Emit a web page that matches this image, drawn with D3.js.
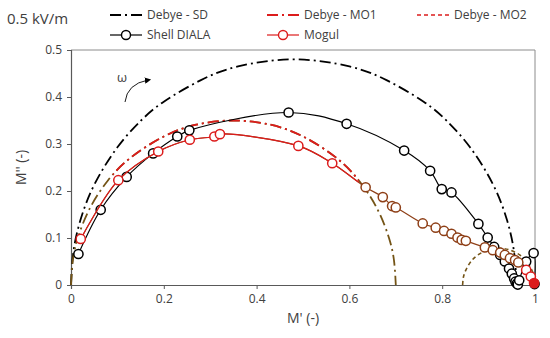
<!DOCTYPE html>
<meta charset="utf-8">
<script src="https://d3js.org/d3.v7.min.js"></script>
<style>
  body { margin: 0; background: #fff; }
  text { font-family: "Open Sans", "Noto Sans", sans-serif; fill: #404040; }
</style>
<body>
<script>
// Shell DIALA measured modulus (M', M'')
var shellRe = [0.016, 0.064, 0.120, 0.177, 0.229, 0.255, 0.469, 0.594, 0.718, 0.774, 0.799, 0.820, 0.878, 0.898, 0.912, 0.925, 0.935, 0.944, 0.950, 0.955, 0.958, 0.961, 0.963, 0.966, 0.981, 0.997, 0.999];
var shellIm = [0.066, 0.160, 0.230, 0.280, 0.316, 0.329, 0.367, 0.343, 0.286, 0.243, 0.204, 0.197, 0.130, 0.101, 0.081, 0.064, 0.050, 0.035, 0.024, 0.014, 0.007, 0.003, 0.001, 0.010, 0.050, 0.068, 0.002];

// Mogul measured modulus
var mogulRe = [0.021, 0.102, 0.188, 0.256, 0.309, 0.321, 0.490, 0.563, 0.635, 0.672, 0.692, 0.700, 0.758, 0.786, 0.804, 0.820, 0.833, 0.842, 0.851, 0.892, 0.909, 0.925, 0.935, 0.946, 0.957, 0.964, 0.981, 0.991, 0.998];
var mogulIm = [0.098, 0.223, 0.284, 0.309, 0.316, 0.321, 0.296, 0.259, 0.208, 0.187, 0.168, 0.165, 0.131, 0.122, 0.115, 0.109, 0.101, 0.096, 0.094, 0.080, 0.074, 0.069, 0.064, 0.057, 0.053, 0.048, 0.032, 0.018, 0.004];

// Debye fits, points
var sdRe = [0, 0.005, 0.02, 0.05, 0.1, 0.15, 0.2, 0.28, 0.36, 0.48, 0.6, 0.68, 0.76, 0.81, 0.86, 0.91, 0.94, 0.955, 0.96];
var sdIm = [0, 0.069, 0.137, 0.213, 0.293, 0.349, 0.390, 0.436, 0.465, 0.480, 0.465, 0.436, 0.390, 0.349, 0.293, 0.213, 0.137, 0.069, 0];

var mo1Re = [0, 0.004, 0.015, 0.04, 0.08, 0.13, 0.2, 0.27, 0.35, 0.43, 0.5, 0.57, 0.62, 0.66, 0.685, 0.696, 0.7];
var mo1Im = [0, 0.053, 0.101, 0.162, 0.223, 0.272, 0.316, 0.341, 0.350, 0.341, 0.316, 0.272, 0.223, 0.162, 0.101, 0.053, 0];

var mo2Re = [0.844, 0.846, 0.852, 0.862, 0.877, 0.9, 0.922, 0.944, 0.967, 0.982, 0.992, 0.998, 1.0];
var mo2Im = [0, 0.018, 0.034, 0.050, 0.064, 0.075, 0.078, 0.075, 0.064, 0.050, 0.034, 0.018, 0];

var xTicks = [0, 0.2, 0.4, 0.6, 0.8, 1];
var yTicks = [0, 0.1, 0.2, 0.3, 0.4, 0.5];

var width = 550, height = 338;
var red = "#dc1c1c", brown = "#8e3f17", olive = "#745416";

var x = d3.scaleLinear().domain([0, 1]).range([71, 535]);
var y = d3.scaleLinear().domain([0, 0.5]).range([285, 50]);

var svg = d3.select("body").append("svg")
    .attr("width", width)
    .attr("height", height);

var zip = (a, b) => a.map((v, i) => [v, b[i]]);
var shell = zip(shellRe, shellIm);
var mogul = zip(mogulRe, mogulIm);

// frame (top / right)
svg.append("path")
    .attr("d", `M${x(0)},${y(0.5)}H${x(1)}V${y(0)}`)
    .attr("fill", "none")
    .attr("stroke", "#8c8c8c")
    .attr("stroke-width", 1);

// axes
var xAxis = svg.append("g").attr("transform", `translate(0,${y(0)})`);
xAxis.call(d3.axisBottom(x).tickValues(d3.ticks(0, 1, 50)).tickSize(4).tickFormat(""));
xAxis.call(d3.axisBottom(x).tickValues(xTicks).tickSize(4).tickPadding(5).tickFormat(d => +d.toFixed(1)));
var yAxis = svg.append("g").attr("transform", `translate(${x(0)},0)`);
yAxis.call(d3.axisLeft(y).tickValues(d3.ticks(0, 0.5, 25)).tickSize(4).tickFormat(""));
yAxis.call(d3.axisLeft(y).tickValues(yTicks).tickSize(4).tickPadding(5).tickFormat(d => +d.toFixed(1)));
svg.selectAll(".domain").attr("stroke", "#595959").attr("stroke-width", 1.2);
svg.selectAll(".tick line").attr("stroke", "#595959");
svg.selectAll(".tick text").attr("font-size", 12).attr("fill", "#404040")
    .style("font-family", "'Open Sans', sans-serif");

svg.append("text")
    .attr("x", (x(0) + x(1)) / 2).attr("y", 323)
    .attr("text-anchor", "middle").attr("font-size", 14)
    .text("M' (-)");
svg.append("text")
    .attr("transform", `translate(26,${(y(0) + y(0.5)) / 2}) rotate(-90)`)
    .attr("text-anchor", "middle").attr("font-size", 14)
    .text("M'' (-)");

svg.append("text")
    .attr("x", 7).attr("y", 24)
    .attr("font-size", 15)
    .text("0.5 kV/m");

// clip regions for the colour changes along the curves
var defs = svg.append("defs");
defs.append("clipPath").attr("id", "redMid").append("rect")
    .attr("x", x(0.09)).attr("y", 0).attr("width", x(0.62) - x(0.09)).attr("height", height);
defs.append("clipPath").attr("id", "redLeft").append("rect")
    .attr("x", 0).attr("y", 0).attr("width", x(0.62)).attr("height", height);

var arc = d3.line().x(d => x(d[0])).y(d => y(d[1])).curve(d3.curveNatural);
var poly = d3.line().x(d => x(d[0])).y(d => y(d[1])).curve(d3.curveCatmullRom.alpha(0.5));

var plot = svg.append("g").attr("fill", "none");

// Debye - SD
plot.append("path")
    .attr("d", arc(zip(sdRe, sdIm)))
    .attr("stroke", "#000").attr("stroke-width", 1.8)
    .attr("stroke-dasharray", "11,4,2,4");

// Debye - MO1 (brown ends, red middle)
plot.append("path")
    .attr("d", arc(zip(mo1Re, mo1Im)))
    .attr("stroke", olive).attr("stroke-width", 1.8)
    .attr("stroke-dasharray", "11,4,2,4");
plot.append("path")
    .attr("d", arc(zip(mo1Re, mo1Im)))
    .attr("clip-path", "url(#redMid)")
    .attr("stroke", red).attr("stroke-width", 1.8)
    .attr("stroke-dasharray", "11,4,2,4");

// Debye - MO2
plot.append("path")
    .attr("d", arc(zip(mo2Re, mo2Im)))
    .attr("stroke", olive).attr("stroke-width", 1.6)
    .attr("stroke-dasharray", "4,3");

// Shell DIALA
plot.append("path")
    .attr("d", poly(shell))
    .attr("stroke", "#000").attr("stroke-width", 1.2);
plot.selectAll("circle.shell")
    .data(shell)
    .join("circle")
    .attr("class", "shell")
    .attr("cx", d => x(d[0])).attr("cy", d => y(d[1]))
    .attr("r", 4.6)
    .attr("fill", "#fff").attr("stroke", "#000").attr("stroke-width", 1.5);

// Mogul
plot.append("path")
    .attr("d", poly(mogul))
    .attr("stroke", brown).attr("stroke-width", 1.2);
plot.append("path")
    .attr("d", poly(mogul))
    .attr("clip-path", "url(#redLeft)")
    .attr("stroke", red).attr("stroke-width", 1.2);
var mogulColor = d => d[0] < 0.62 || d[0] > 0.97 ? red : brown;
plot.selectAll("circle.mogul")
    .data(mogul)
    .join("circle")
    .attr("class", "mogul")
    .attr("cx", d => x(d[0])).attr("cy", d => y(d[1]))
    .attr("r", 4.6)
    .attr("fill", (d, i) => i === mogul.length - 1 ? red : "#fff")
    .attr("stroke", mogulColor).attr("stroke-width", 1.5);

// omega arrow
svg.append("defs").append("marker")
    .attr("id", "head").attr("viewBox", "0 0 10 10")
    .attr("refX", 5).attr("refY", 5)
    .attr("markerWidth", 7).attr("markerHeight", 7)
    .attr("orient", "auto")
  .append("path").attr("d", "M0,0L10,5L0,10Z").attr("fill", "#000");
svg.append("path")
    .attr("d", "M125,102 Q127,84 148,80")
    .attr("fill", "none").attr("stroke", "#000").attr("stroke-width", 0.9)
    .attr("marker-end", "url(#head)");
svg.append("text")
    .attr("x", 122).attr("y", 82)
    .attr("text-anchor", "middle").attr("font-size", 13)
    .attr("fill", "#333")
    .text("ω");

// legend
var legendItems = [
  {name: "Debye - SD", x0: 110, row: 0, color: "#000", dash: "11,4,2,4", w: 1.8, marker: false},
  {name: "Debye - MO1", x0: 267, row: 0, color: red, dash: "11,4,2,4", w: 1.8, marker: false},
  {name: "Debye - MO2", x0: 417, row: 0, color: red, dash: "4,3", w: 1.6, marker: false},
  {name: "Shell DIALA", x0: 110, row: 1, color: "#000", dash: null, w: 1.2, marker: true},
  {name: "Mogul", x0: 267, row: 1, color: red, dash: null, w: 1.2, marker: true}
];
var lg = svg.append("g").selectAll("g")
    .data(legendItems)
    .join("g")
    .attr("transform", d => `translate(${d.x0},${15 + d.row * 20})`);
lg.append("line")
    .attr("x1", 0).attr("x2", 32)
    .attr("stroke", d => d.color).attr("stroke-width", d => d.w)
    .attr("stroke-dasharray", d => d.dash);
lg.filter(d => d.marker).append("circle")
    .attr("cx", 16).attr("r", 4.5)
    .attr("fill", "#fff").attr("stroke", d => d.color).attr("stroke-width", 1.4);
lg.append("text")
    .attr("x", 37).attr("dy", "0.35em")
    .attr("font-size", 12)
    .text(d => d.name);
</script>
</body>
